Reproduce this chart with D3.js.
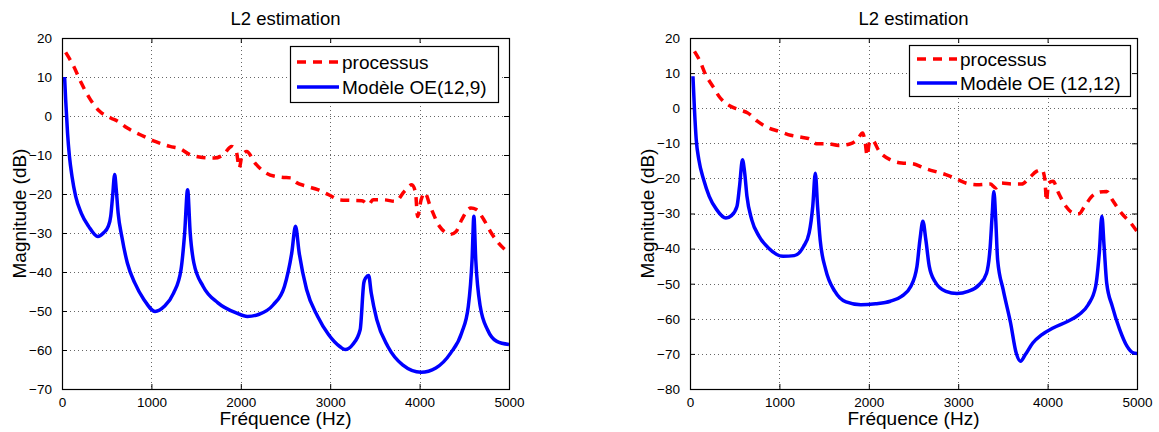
<!DOCTYPE html>
<html>
<head>
<meta charset="utf-8">
<script src="https://cdn.jsdelivr.net/npm/d3@7"></script>
<style>
  html, body { margin: 0; padding: 0; background: #fff; }
  svg { display: block; }
  text { font-family: "Liberation Sans", Arial, Helvetica, sans-serif; fill: #000; }
</style>
</head>
<body>
<svg id="chart" width="1159" height="432"></svg>
<script>
// ---------- data ----------
const titleText = "L2 estimation";
const xLabel = "Fréquence (Hz)";
const yLabel = "Magnitude (dB)";
const xTicks = [0, 1000, 2000, 3000, 4000, 5000];
const yTicksLeft = [20, 10, 0, -10, -20, -30, -40, -50, -60, -70];
const yTicksRight = [20, 10, 0, -10, -20, -30, -40, -50, -60, -70, -80];
const legendLeft = ["processus", "Modèle OE(12,9)"];
const legendRight = ["processus", "Modèle OE (12,12)"];

// [frequency Hz, magnitude dB]
const procLeft = [
  [41,16.3],[132,12.7],[215,8.5],[318,4.2],[421,1.2],[545,-0.5],[628,-1.4],[731,-3.1],
  [876,-4.8],[1041,-6.5],[1207,-7.8],[1331,-8.5],[1413,-9.7],[1537,-10.5],[1702,-10.8],
  [1806,-9.9],[1897,-7.8],[1950,-9.1],[1983,-13.3],[2012,-10.3],[2066,-9.1],[2157,-12],
  [2281,-14.6],[2446,-15.7],[2570,-15.9],[2612,-16.9],[2736,-18],[2860,-18.9],[2983,-20.2],
  [3107,-21.5],[3231,-21.6],[3355,-21.7],[3430,-22.7],[3479,-21.5],[3603,-21.5],[3727,-21.9],
  [3831,-19.3],[3913,-17.6],[3955,-19.7],[3977,-25.8],[4017,-21.5],[4058,-19.7],[4120,-23.2],
  [4223,-28.3],[4347,-30.3],[4409,-29.6],[4471,-26.6],[4574,-23.6],[4636,-24],[4719,-26.6],
  [4802,-30],[4884,-32.6],[5000,-35.1]
];
const modelLeft = [
  [29,10],[41,4.2],[62,-4.4],[83,-10.3],[112,-15.5],[153,-20.6],[215,-24.9],[298,-28.3],
  [401,-30.9],[463,-30],[517,-28.3],[545,-25.7],[566,-20.6],[589,-15],[607,-18.9],[628,-24.9],
  [669,-30.9],[731,-37.7],[814,-42.8],[917,-47.1],[1041,-50.1],[1145,-48.8],[1248,-45.4],
  [1331,-39.4],[1372,-30],[1405,-18.9],[1434,-30],[1475,-37.7],[1579,-43.7],[1744,-47.9],
  [1950,-50.5],[2074,-51.4],[2198,-50.9],[2364,-48.4],[2488,-43.7],[2570,-35.1],[2612,-28.3],
  [2653,-35.1],[2736,-44.5],[2860,-51.4],[2983,-56.1],[3107,-59.1],[3169,-59.9],[3252,-58.6],
  [3335,-54.8],[3376,-42.8],[3397,-41.5],[3430,-40.9],[3459,-45.4],[3521,-52.2],[3645,-59.1],
  [3810,-63.8],[4017,-65.7],[4182,-64.6],[4347,-60.8],[4471,-55.6],[4545,-48.8],[4587,-36.8],
  [4607,-25.7],[4628,-36.8],[4678,-48.8],[4760,-54.8],[4864,-57.8],[5000,-58.6]
];
const procRight = [
  [50,16.2],[112,13.4],[174,9.6],[256,6.2],[339,2.9],[443,0.7],[546,-0.4],[649,-1.4],
  [753,-3.7],[877,-5.6],[1001,-6.6],[1125,-7.7],[1249,-8.3],[1332,-8.7],[1414,-10.1],
  [1538,-10.1],[1663,-10.6],[1787,-10.2],[1869,-9],[1931,-7.1],[1960,-9.9],[1981,-13.5],
  [2006,-9.9],[2035,-9],[2117,-12.3],[2241,-14.7],[2366,-15.6],[2490,-15.8],[2614,-17],
  [2738,-18],[2862,-18.9],[2986,-20.2],[3110,-21.5],[3234,-21.8],[3358,-21.6],[3420,-22.7],
  [3482,-21.3],[3606,-21.6],[3710,-21.6],[3793,-19.9],[3875,-18],[3937,-17.5],[3970,-20.4],
  [3987,-26.5],[4011,-21.3],[4061,-20.8],[4123,-24.2],[4206,-28],[4289,-29.9],[4351,-30.1],
  [4413,-28],[4496,-25.1],[4578,-23.9],[4661,-23.7],[4723,-26.1],[4826,-29.9],[4930,-32.7],
  [5000,-35.1]
];
const modelRight = [
  [33,9.1],[50,-0.4],[70,-9],[99,-14.7],[153,-20.4],[215,-25.1],[298,-28.9],[401,-31.3],
  [463,-30.6],[525,-28],[554,-22.3],[587,-14.7],[612,-18.5],[637,-25.1],[691,-31.8],
  [773,-36.5],[877,-39.8],[1042,-42.2],[1166,-42],[1270,-39.4],[1332,-35.6],[1373,-28],
  [1402,-18.5],[1427,-28],[1456,-37.5],[1518,-46],[1621,-52.2],[1745,-55.2],[1911,-56],
  [2076,-55.7],[2241,-55],[2366,-53.6],[2469,-50.8],[2539,-45],[2572,-37.5],[2605,-32.2],
  [2638,-37.5],[2676,-45],[2738,-49.3],[2862,-52.2],[2986,-52.8],[3110,-52.2],[3234,-50.3],
  [3317,-47],[3358,-39.4],[3379,-30.8],[3399,-23.7],[3420,-31.8],[3441,-43.2],[3503,-51.7],
  [3586,-61.2],[3648,-69.7],[3697,-72.1],[3751,-70.2],[3834,-66.9],[3937,-64.5],[4061,-62.6],
  [4227,-60.7],[4351,-58.8],[4454,-56],[4537,-50.8],[4578,-41.3],[4607,-30.8],[4632,-39.4],
  [4661,-49.8],[4723,-56.4],[4806,-63],[4888,-67.8],[4950,-69.6],[5000,-69.9]
];

// ---------- drawing ----------
const svg = d3.select("#chart");

function panel(cfg) {
  const g = svg.append("g");
  const x = d3.scaleLinear().domain([0, 5000]).range([cfg.x0, cfg.x1]);
  const y = d3.scaleLinear().domain(cfg.yDomain).range([cfg.y1, cfg.y0]);
  const fmt = d3.format("d");

  // grid
  g.append("g").selectAll("line.vg").data(xTicks.slice(1, -1)).join("line")
    .attr("x1", d => Math.round(x(d)) + 0.5).attr("x2", d => Math.round(x(d)) + 0.5)
    .attr("y1", cfg.y0).attr("y2", cfg.y1)
    .attr("stroke", "#666").attr("stroke-width", 1).attr("stroke-dasharray", "1,3");
  g.append("g").selectAll("line.hg").data(cfg.yTicks.slice(1, -1)).join("line")
    .attr("y1", d => Math.round(y(d)) + 0.5).attr("y2", d => Math.round(y(d)) + 0.5)
    .attr("x1", cfg.x0).attr("x2", cfg.x1)
    .attr("stroke", "#666").attr("stroke-width", 1).attr("stroke-dasharray", "1,3");

  // axes (ticks inward) via d3 axes
  const tl = 5;
  g.append("g").attr("transform", `translate(0,${cfg.y1})`)
    .call(d3.axisBottom(x).tickValues(xTicks).tickFormat(fmt).tickSizeInner(-tl).tickSizeOuter(0).tickPadding(8))
    .call(a => a.select(".domain").remove())
    .call(a => a.selectAll("text").attr("font-size", 13.5).attr("font-family", "Liberation Sans, Arial, sans-serif"));
  g.append("g").attr("transform", `translate(0,${cfg.y0})`)
    .call(d3.axisTop(x).tickValues(xTicks).tickFormat("").tickSizeInner(-tl).tickSizeOuter(0))
    .call(a => a.select(".domain").remove());
  g.append("g").attr("transform", `translate(${cfg.x0},0)`)
    .call(d3.axisLeft(y).tickValues(cfg.yTicks).tickFormat(fmt).tickSizeInner(-tl).tickSizeOuter(0).tickPadding(10))
    .call(a => a.select(".domain").remove())
    .call(a => a.selectAll("text").attr("font-size", 13.5).attr("font-family", "Liberation Sans, Arial, sans-serif"));
  g.append("g").attr("transform", `translate(${cfg.x1},0)`)
    .call(d3.axisRight(y).tickValues(cfg.yTicks).tickFormat("").tickSizeInner(-tl).tickSizeOuter(0))
    .call(a => a.select(".domain").remove());

  // curves
  const line = d3.line().x(d => x(d[0])).y(d => y(d[1])).curve(d3.curveMonotoneX);
  const clipId = "clip" + cfg.id;
  g.append("clipPath").attr("id", clipId).append("rect")
    .attr("x", cfg.x0).attr("y", cfg.y0).attr("width", cfg.x1 - cfg.x0).attr("height", cfg.y1 - cfg.y0);
  g.append("path").datum(cfg.model).attr("d", line).attr("fill", "none")
    .attr("stroke", "#0000ff").attr("stroke-width", 3.5).attr("stroke-linejoin", "round")
    .attr("clip-path", `url(#${clipId})`);
  g.append("path").datum(cfg.proc).attr("d", line).attr("fill", "none")
    .attr("stroke", "#ff0000").attr("stroke-width", 3.5).attr("stroke-dasharray", "9,7")
    .attr("clip-path", `url(#${clipId})`);

  // frame
  g.append("rect").attr("x", cfg.x0 + 0.5).attr("y", cfg.y0 + 0.5)
    .attr("width", cfg.x1 - cfg.x0).attr("height", cfg.y1 - cfg.y0)
    .attr("fill", "none").attr("stroke", "#000").attr("stroke-width", 1.2);

  // title & labels
  const cx = (cfg.x0 + cfg.x1) / 2;
  g.append("text").attr("x", cx).attr("y", 25).attr("text-anchor", "middle")
    .attr("font-size", 18.5).text(titleText);
  g.append("text").attr("x", cx).attr("y", 425).attr("text-anchor", "middle")
    .attr("font-size", 19).text(xLabel);
  g.append("text").attr("transform", `translate(${cfg.x0 - 36},${(cfg.y0 + cfg.y1) / 2}) rotate(-90)`)
    .attr("text-anchor", "middle").attr("font-size", 19).text(yLabel);

  // legend
  const L = cfg.legend;
  g.append("rect").attr("x", L.x + 0.5).attr("y", L.y + 0.5).attr("width", L.w).attr("height", L.h)
    .attr("fill", "#fff").attr("stroke", "#000").attr("stroke-width", 1.2);
  const items = [
    { label: L.labels[0], color: "#ff0000", dash: "9,7", ry: L.r1 },
    { label: L.labels[1], color: "#0000ff", dash: null, ry: L.r2 }
  ];
  items.forEach(it => {
    g.append("line").attr("x1", L.lx0).attr("x2", L.lx1).attr("y1", it.ry).attr("y2", it.ry)
      .attr("stroke", it.color).attr("stroke-width", 3.5).attr("stroke-dasharray", it.dash);
    g.append("text").attr("x", L.tx).attr("y", it.ry + 7).attr("font-size", 19).text(it.label);
  });
}

panel({
  id: "L", x0: 62, x1: 509, y0: 38, y1: 389, yDomain: [-70, 20], yTicks: yTicksLeft,
  proc: procLeft, model: modelLeft,
  legend: { x: 290, y: 46, w: 208, h: 56, r1: 62, r2: 87, lx0: 297, lx1: 339, tx: 342, labels: legendLeft }
});
panel({
  id: "R", x0: 690, x1: 1137, y0: 38, y1: 389, yDomain: [-80, 20], yTicks: yTicksRight,
  proc: procRight, model: modelRight,
  legend: { x: 909, y: 45, w: 221, h: 51, r1: 59, r2: 83, lx0: 917, lx1: 957, tx: 960, labels: legendRight }
});
</script>
</body>
</html>
